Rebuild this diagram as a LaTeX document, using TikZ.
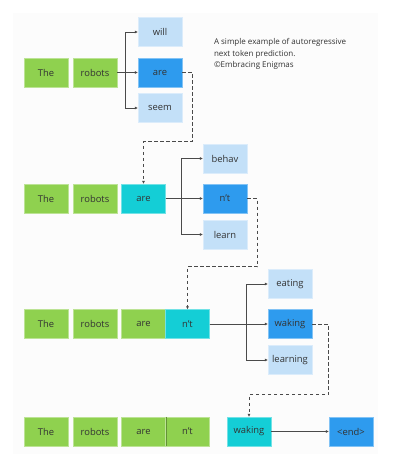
\documentclass[tikz,border=0pt]{standalone}
\usepackage{fontspec}
\setmainfont{Open Sans}
\usetikzlibrary{arrows.meta}
\definecolor{tokgreen}{HTML}{8FD14F}
\definecolor{candlight}{HTML}{C3E0F8}
\definecolor{candpick}{HTML}{2E9BEE}
\definecolor{tokcurrent}{HTML}{14CED6}
\definecolor{linegray}{HTML}{4A4A4A}
\definecolor{textgray}{HTML}{333333}
\definecolor{panel}{HTML}{FCFCFC}
\tikzset{
  tok/.style={fill=#1, draw=#1!60!white, line width=0.4pt, minimum width=44pt,
    minimum height=29pt, inner sep=0pt, text=textgray,
    font=\fontsize{9.4}{10}\selectfont},
  link/.style={draw=linegray, line width=0.9pt, -{Latex[length=3pt,width=3pt]}},
  jump/.style={link, dash pattern=on 3.5pt off 2.5pt},
}
\begin{document}
\begin{tikzpicture}[x=1pt,y=-1pt]
\useasboundingbox (0,0) rectangle (406,454);
\fill[panel] (13,13) rectangle (378,454);
% prompt tokens, one row per step
\foreach \r/\y in {1/72.5,2/198.5,3/324,4/431.5}{
  \node[tok=tokgreen] (the\r) at (46,\y) {The};
  \node[tok=tokgreen] (robots\r) at (95,\y) {robots};
}
% step 1
\node[tok=candlight] (will) at (160,32) {will};
\node[tok=candpick] (are1) at (160,72.5) {are};
\node[tok=candlight] (seem) at (160,108) {seem};
\draw[link] (robots1) -- (are1);
\draw[link] (robots1.east) -- ++(8,0) |- (will);
\draw[link] (robots1.east) -- ++(8,0) |- (seem);
% step 2
\node[tok=tokcurrent] (are2) at (143.5,198.5) {are};
\node[tok=candlight] (behav) at (225,158.5) {behav};
\node[tok=candpick] (nt2) at (225,198.5) {n't};
\node[tok=candlight] (learn) at (225,234.5) {learn};
\draw[link] (are2) -- (nt2);
\draw[link] (are2.east) -- ++(15.5,0) |- (behav);
\draw[link] (are2.east) -- ++(15.5,0) |- (learn);
% step 3
\node[tok=tokgreen] (are3) at (143.5,324) {are};
\node[tok=tokcurrent] (nt3) at (187.5,324) {n't};
\node[tok=candlight] (eating) at (290,284) {eating};
\node[tok=candpick] (waking3) at (290,324) {waking};
\node[tok=candlight] (learning) at (290,360) {learning};
\draw[link] (nt3) -- (waking3);
\draw[link] (nt3.east) -- ++(36.5,0) |- (eating);
\draw[link] (nt3.east) -- ++(36.5,0) |- (learning);
% step 4
\node[tok=tokgreen] (are4) at (143.5,431.5) {are};
\node[tok=tokgreen] (nt4) at (187.5,431.5) {n't};
\draw[tokgreen!70!black, line width=0.3pt] (are4.north east) -- (are4.south east);
\node[tok=tokcurrent] (waking4) at (249,431.5) {waking};
\node[tok=candpick] (end) at (351,431.5) {<end>};
\draw[link] (waking4) -- (end);
% picked token goes into the next row
\draw[jump] (are1.east) -- ++(10,0) |- ([yshift=42pt]are2.north) -- (are2.north);
\draw[jump] (nt2.east) -- ++(10,0) |- ([yshift=42.5pt]nt3.north) -- (nt3.north);
\draw[jump] (waking3.east) -- ++(16,0) |- ([yshift=22pt]waking4.north) -- (waking4.north);
\node[anchor=north west, align=left, text=textgray,
  font=\fontsize{8}{11.5}\selectfont] (caption) at (210.5,35)
  {A simple example of autoregressive\\next token prediction.\\©Embracing Enigmas};
\end{tikzpicture}
\end{document}
